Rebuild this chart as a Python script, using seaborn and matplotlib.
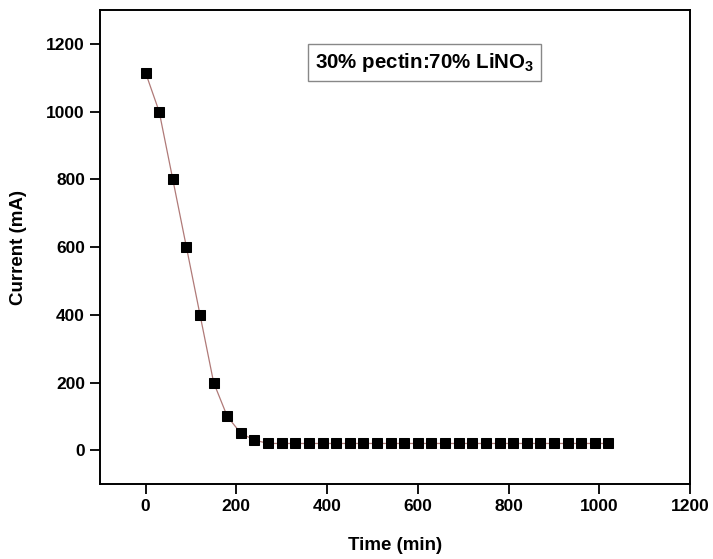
import matplotlib
matplotlib.use("Agg")
import matplotlib.pyplot as plt
import seaborn as sns
import pandas as pd

time_min = [0, 30, 60, 90, 120, 150, 180, 210, 240, 270, 300, 330, 360, 390, 420,
            450, 480, 510, 540, 570, 600, 630, 660, 690, 720, 750, 780, 810, 840,
            870, 900, 930, 960, 990, 1020]
current_mA = [1115, 1000, 800, 600, 400, 200, 100, 50, 30, 20, 20, 20, 20, 20, 20,
              20, 20, 20, 20, 20, 20, 20, 20, 20, 20, 20, 20, 20, 20,
              20, 20, 20, 20, 20, 20]
x_ticks = [0, 200, 400, 600, 800, 1000, 1200]
y_ticks = [0, 200, 400, 600, 800, 1000, 1200]
label_text = "30% pectin:70% LiNO$_\\mathregular{3}$"

df = pd.DataFrame({"Time (min)": time_min, "Current (mA)": current_mA})

sns.set_style("ticks")
plt.rcParams["font.family"] = ["Liberation Sans", "DejaVu Sans"]
plt.rcParams["font.weight"] = "bold"
plt.rcParams["mathtext.default"] = "regular"
for k in ["text.color", "axes.labelcolor", "xtick.color", "ytick.color", "axes.edgecolor"]:
    plt.rcParams[k] = "black"

fig = plt.figure(figsize=(7.13, 5.59), dpi=100)
ax = fig.add_axes([0.1405, 0.134, 0.8275, 0.848])

sns.lineplot(data=df, x="Time (min)", y="Current (mA)", ax=ax,
             color="#b07a78", linewidth=0.9, marker="s", markersize=7.5,
             markerfacecolor="black", markeredgecolor="black")

ax.set_xlim(-100, 1200)
ax.set_ylim(-100, 1300)
ax.set_xticks(x_ticks)
ax.set_yticks(y_ticks)
ax.tick_params(direction="out", length=7, width=1.3, pad=4, labelsize=12.5,
               top=False, right=False, colors="black")
for lab in ax.get_xticklabels() + ax.get_yticklabels():
    lab.set_fontweight("bold")
for s in ax.spines.values():
    s.set_linewidth(1.4)
    s.set_color("black")
ax.set_xlabel("Time (min)", fontsize=13.5, fontweight="bold", labelpad=16, color="black")
ax.set_ylabel("Current (mA)", fontsize=13.5, fontweight="bold", labelpad=14, color="black")

ax.text(615, 1145, label_text, fontsize=14.8, fontweight="bold", ha="center", va="center",
        color="black",
        bbox=dict(boxstyle="square,pad=0.33", facecolor="white", edgecolor="#888888", linewidth=1))

fig.savefig("out.png", dpi=100)
